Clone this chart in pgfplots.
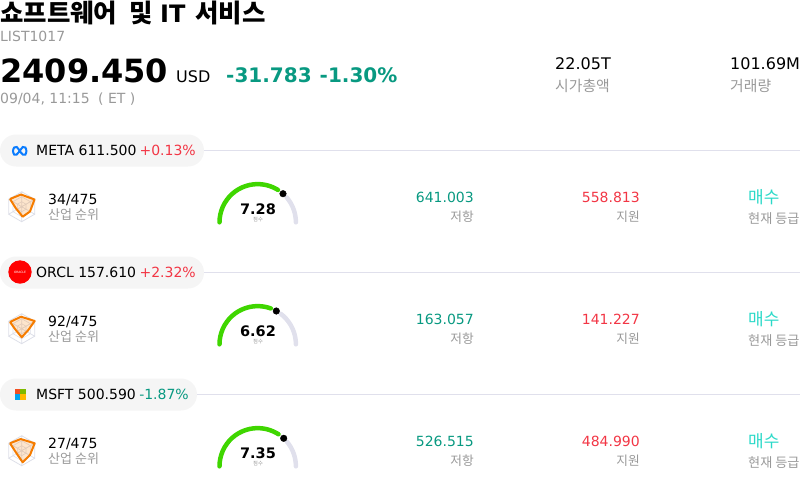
\documentclass[border=0pt]{standalone}
\usepackage{fontspec}
\usepackage{pgfplots}
\usepackage{pgfplotstable}
\pgfplotsset{compat=1.18}
\setmainfont{DejaVu Sans}
\newfontfamily\kr[Scale=1.06]{Noto Sans CJK KR}
\definecolor{teal}{HTML}{089981}
\definecolor{redx}{HTML}{F23645}
\definecolor{grayt}{HTML}{999999}
\definecolor{turq}{HTML}{2BD9C8}
\definecolor{gaugeg}{HTML}{3FD600}
\definecolor{gaugeb}{HTML}{E0E0EC}
\definecolor{linec}{HTML}{E0E0EC}
\definecolor{pill}{HTML}{F5F5F5}
\definecolor{orng}{HTML}{F57C00}
\definecolor{hexc}{HTML}{DDDFE8}
\definecolor{msr}{HTML}{F25022}
\definecolor{msg}{HTML}{7FBA00}
\definecolor{msb}{HTML}{00A4EF}
\definecolor{msy}{HTML}{FFB900}
\definecolor{metab}{HTML}{0A7CFF}
\newcommand\fs[1]{\fontsize{#1}{#1}\selectfont}
% gauge arcs: offsets from the gauge centre
\pgfplotstableread{
dx dy
-38.2 0
-37.99 3.99
-37.37 7.94
-36.33 11.80
-34.90 15.54
-33.08 19.10
-30.90 22.45
-28.39 25.56
-25.56 28.39
-22.45 30.90
-19.10 33.08
-15.54 34.90
-11.80 36.33
-7.94 37.37
-3.99 37.99
0 38.2
3.99 37.99
7.94 37.37
11.80 36.33
15.54 34.90
19.10 33.08
20.24 32.40
}\greenA
\pgfplotstableread{
dx dy
-38.2 0
-37.99 3.99
-37.37 7.94
-36.33 11.80
-34.90 15.54
-33.08 19.10
-30.90 22.45
-28.39 25.56
-25.56 28.39
-22.45 30.90
-19.10 33.08
-15.54 34.90
-11.80 36.33
-7.94 37.37
-3.99 37.99
0 38.2
3.99 37.99
7.94 37.37
11.80 36.33
13.06 35.90
}\greenB
\pgfplotstableread{
dx dy
-38.2 0
-37.99 3.99
-37.37 7.94
-36.33 11.80
-34.90 15.54
-33.08 19.10
-30.90 22.45
-28.39 25.56
-25.56 28.39
-22.45 30.90
-19.10 33.08
-15.54 34.90
-11.80 36.33
-7.94 37.37
-3.99 37.99
0 38.2
3.99 37.99
7.94 37.37
11.80 36.33
15.54 34.90
19.10 33.08
20.80 32.04
}\greenC
\pgfplotstableread{
dx dy
28.83 25.06
30.90 22.45
33.08 19.10
34.90 15.54
36.33 11.80
37.37 7.94
37.99 3.99
38.2 0
}\grayA
\pgfplotstableread{
dx dy
22.99 30.51
25.56 28.39
28.39 25.56
30.90 22.45
33.08 19.10
34.90 15.54
36.33 11.80
37.37 7.94
37.99 3.99
38.2 0
}\grayB
\pgfplotstableread{
dx dy
29.26 24.56
30.90 22.45
33.08 19.10
34.90 15.54
36.33 11.80
37.37 7.94
37.99 3.99
38.2 0
}\grayC
% hexagon grid, offsets from the icon centre
\pgfplotstableread{
dx dy
0 -15
13 -7.5
13 7.5
0 15
-13 7.5
-13 -7.5
0 -15
0 0
13 -7.5
13 7.5
0 0
0 15
-13 7.5
0 0
-13 -7.5
0 -15
}\hexO
\pgfplotstableread{
dx dy
0 -10
8.66 -5
8.66 5
0 10
-8.66 5
-8.66 -5
0 -10
}\hexM
\pgfplotstableread{
dx dy
0 -5
4.33 -2.5
4.33 2.5
0 5
-4.33 2.5
-4.33 -2.5
0 -5
}\hexI
\newcommand\hexgrid[1]{%
  \addplot[hexc,line width=.8pt,no markers] table[x expr=\thisrow{dx}+21.7,y expr=\thisrow{dy}+#1]{\hexO};
  \addplot[hexc,line width=.6pt,no markers] table[x expr=\thisrow{dx}+21.7,y expr=\thisrow{dy}+#1]{\hexM};
  \addplot[hexc,line width=.6pt,no markers] table[x expr=\thisrow{dx}+21.7,y expr=\thisrow{dy}+#1]{\hexI};
}
\newcommand\gauge[4]{% green table, gray table, centre y, value
  \addplot[gaugeb,line width=4.5pt,line cap=round,no markers] table[x expr=\thisrow{dx}+257.7,y expr=#3-\thisrow{dy}]{#2};
  \addplot[gaugeg,line width=4.5pt,line cap=round,no markers] table[x expr=\thisrow{dx}+257.7,y expr=#3-\thisrow{dy}]{#1};
  \node[anchor=base,font=\fs{14.5}\bfseries,inner sep=0] at (axis cs:258,#3-8.3) {#4};
  \node[anchor=base,font=\fs{5}\kr,text=grayt,inner sep=0] at (axis cs:258,#3-0.6) {점수};
}
\newcommand\row[4]{% y of strip, rank, res, sup
  \node[anchor=base west,font=\fs{14},inner sep=0] at (axis cs:48,#1+54) {#2};
  \node[anchor=base west,font=\fs{12.3}\kr,text=grayt,inner sep=0] at (axis cs:48,#1+69) {산업 순위};
  \node[anchor=base east,font=\fs{14},text=teal,inner sep=0] at (axis cs:474,#1+52.5) {#3};
  \node[anchor=base east,font=\fs{12}\kr,text=grayt,inner sep=0] at (axis cs:474,#1+71) {저항};
  \node[anchor=base east,font=\fs{14},text=redx,inner sep=0] at (axis cs:640,#1+52.5) {#4};
  \node[anchor=base east,font=\fs{12}\kr,text=grayt,inner sep=0] at (axis cs:640,#1+71) {지원};
  \node[anchor=base west,font=\fs{16}\kr,text=turq,inner sep=0] at (axis cs:748,#1+53.5) {매수};
  \node[anchor=base west,font=\fs{12.4}\kr,text=grayt,inner sep=0] at (axis cs:748,#1+73) {현재 등급};
}
\begin{document}
\begin{tikzpicture}
\path[use as bounding box] (0,0) rectangle (800pt,488pt);
\begin{axis}[at={(0,0)},anchor=south west,scale only axis,width=800pt,height=488pt,
  xmin=0,xmax=800,ymin=0,ymax=488,y dir=reverse,hide axis,clip=false]
% header
\node[anchor=base west,font=\fs{24}\kr\bfseries,inner sep=0] at (axis cs:0,22) {쇼프트웨어};
\node[anchor=base west,font=\fs{24}\kr\bfseries,inner sep=0] at (axis cs:129,22) {및};
\node[anchor=base west,font=\fs{24}\bfseries,inner sep=0] at (axis cs:160,22) {IT};
\node[anchor=base west,font=\fs{24}\kr\bfseries,inner sep=0] at (axis cs:195,22) {서비스};
\node[anchor=base west,font=\fs{14},text=grayt,inner sep=0] at (axis cs:0,41) {LIST1017};
\node[anchor=base west,font=\fs{32}\bfseries,inner sep=0] at (axis cs:0,82.5) {2409.450};
\node[anchor=base west,font=\fs{16},inner sep=0] at (axis cs:176,82.5) {USD};
\node[anchor=base west,font=\fs{20}\bfseries,text=teal,inner sep=0] at (axis cs:226,82.5) {-31.783};
\node[anchor=base west,font=\fs{20}\bfseries,text=teal,inner sep=0] at (axis cs:319.5,82.5) {-1.30\%};
\node[anchor=base west,font=\fs{14},text=grayt,inner sep=0] at (axis cs:0,103) {09/04, 11:15};
\node[anchor=base west,font=\fs{14},text=grayt,inner sep=0] at (axis cs:98,103) {( ET )};
\node[anchor=base west,font=\fs{16},inner sep=0] at (axis cs:555,69) {22.05T};
\node[anchor=base west,font=\fs{14}\kr,text=grayt,inner sep=0] at (axis cs:555,91) {시가총액};
\node[anchor=base west,font=\fs{16},inner sep=0] at (axis cs:730,69) {101.69M};
\node[anchor=base west,font=\fs{14}\kr,text=grayt,inner sep=0] at (axis cs:730,91) {거래량};
% strips
\draw[linec,line width=1pt] (axis cs:190,150.5) -- (axis cs:800,150.5);
\draw[linec,line width=1pt] (axis cs:190,272.5) -- (axis cs:800,272.5);
\draw[linec,line width=1pt] (axis cs:190,394.5) -- (axis cs:800,394.5);
\fill[pill,rounded corners=15.9pt] (axis cs:0,134.5) rectangle (axis cs:204,166.5);
\fill[pill,rounded corners=15.9pt] (axis cs:0,256.5) rectangle (axis cs:204,288.5);
\fill[pill,rounded corners=15.9pt] (axis cs:0,378.5) rectangle (axis cs:197,410.5);
% logos
\addplot[metab,line width=2pt,smooth,no markers] coordinates {(19.7,151) (16.8,147) (14.2,147.5) (13,151) (14.2,154.5) (16.6,154.5) (19.7,151) (22.8,147) (25.4,147.5) (26.4,151) (25.4,154.5) (22.8,154.5) (19.7,151)};
\fill[red] (axis cs:20,272) circle[radius=11.7pt];
\node[font=\fs{3},text=white,inner sep=0] at (axis cs:20,272) {ORACLE};
\fill[msr] (axis cs:14.5,388.5) rectangle (axis cs:20,394);
\fill[msg] (axis cs:20,388.5) rectangle (axis cs:25.5,394);
\fill[msb] (axis cs:14.5,394) rectangle (axis cs:20,399.5);
\fill[msy] (axis cs:20,394) rectangle (axis cs:25.5,399.5);
% strip texts
\node[anchor=base west,font=\fs{14},inner sep=0] at (axis cs:36,155.3) {META 611.500};
\node[anchor=base east,font=\fs{14},text=redx,inner sep=0] at (axis cs:196,155.3) {+0.13\%};
\node[anchor=base west,font=\fs{14},inner sep=0] at (axis cs:36,277.3) {ORCL 157.610};
\node[anchor=base east,font=\fs{14},text=redx,inner sep=0] at (axis cs:196,277.3) {+2.32\%};
\node[anchor=base west,font=\fs{14},inner sep=0] at (axis cs:36,399.3) {MSFT 500.590};
\node[anchor=base east,font=\fs{14},text=teal,inner sep=0] at (axis cs:189,399.3) {-1.87\%};
% radar icons
\hexgrid{206.7}
\hexgrid{328.7}
\hexgrid{450.7}
\addplot[orng,line width=2pt,fill=orng,fill opacity=.2,line join=round,no markers] coordinates {(10,199) (21,194.5) (34.5,199.5) (30,211.5) (22.7,216.7) (16,208.5) (10,199)};
\addplot[orng,line width=2pt,fill=orng,fill opacity=.2,line join=round,no markers] coordinates {(10,322) (21,316.7) (34.7,321) (28.3,330) (21.7,337.3) (15,329) (10,322)};
\addplot[orng,line width=2pt,fill=orng,fill opacity=.2,line join=round,no markers] coordinates {(10,443.3) (20.7,439) (34.7,443.3) (30,455) (22.7,462.3) (17,454) (10,443.3)};
% rows
\row{150}{34/475}{641.003}{558.813}
\row{272}{92/475}{163.057}{141.227}
\row{394}{27/475}{526.515}{484.990}
% gauges
\gauge{\greenA}{\grayA}{222.3}{7.28}
\gauge{\greenB}{\grayB}{344.3}{6.62}
\gauge{\greenC}{\grayC}{466.3}{7.35}
\addplot[only marks,mark=*,mark size=3.3pt,black] coordinates {(283,193.7) (276.3,311) (283.7,438.3)};
\end{axis}
\end{tikzpicture}
\end{document}
